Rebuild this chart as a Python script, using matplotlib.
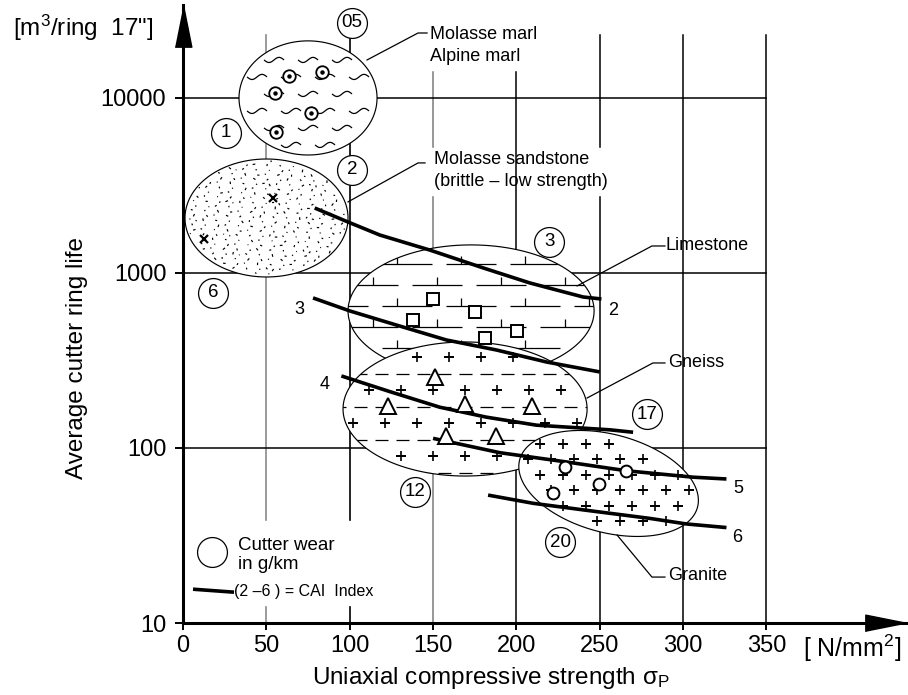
import numpy as np
import matplotlib
matplotlib.use("Agg")
import matplotlib.pyplot as plt
from matplotlib.patches import Polygon
from matplotlib.collections import LineCollection
from matplotlib.ticker import NullLocator

plt.rcParams['font.family'] = ['Liberation Sans', 'DejaVu Sans']
plt.rcParams['mathtext.fontset'] = 'custom'
plt.rcParams['mathtext.rm'] = 'Liberation Sans'
plt.rcParams['mathtext.it'] = 'Liberation Sans:italic'

# ---------------- data ----------------
x_ticks = [0, 50, 100, 150, 200, 250, 300, 350]
x_tick_labels = ["0", "50", "100", "150", "200", "250", "300", "350"]
y_ticks = [10, 100, 1000, 10000]
y_tick_labels = ["10", "100", "1000", "10000"]

# CAI index curves: uniaxial strength (N/mm2) -> ring life (m3/ring)
cai_2_x = [79, 99, 118, 148, 180, 208, 240, 251]
cai_2_y = [2350, 1955, 1648, 1352, 1069, 877, 729, 710]
cai_3_x = [78, 100, 128, 158, 188, 218, 250]
cai_3_y = [720, 607, 504, 414, 363, 310, 272]
cai_4_x = [95, 124, 154, 182, 212, 256, 270]
cai_4_y = [258, 210, 171, 150, 135, 127, 123]
cai_5_x = [150, 190, 230, 266, 306, 326]
cai_5_y = [113.5, 94, 83.2, 74.1, 68.1, 66.5]
cai_6_x = [183, 210, 240, 280, 302, 326]
cai_6_y = [53.8, 48.3, 44.3, 39.6, 36.8, 35.1]
cai_labels = ["2", "3", "4", "5", "6"]

# field observations per rock group
marl_x = [63.6, 83.4, 55.2, 76.8, 55.8]
marl_y = [13370, 14090, 10690, 8200, 6400]
sandstone_x = [54.0, 12.6]
sandstone_y = [2683, 1563]
limestone_x = [150.2, 175.2, 138.2, 200.5, 181.2]
limestone_y = [708, 596, 541, 464, 424]
gneiss_x = [151.2, 123.2, 169.2, 209.2, 157.6, 187.6]
gneiss_y = [255, 174, 178, 174, 117, 117]
granite_x = [229.2, 265.7, 249.7, 222.1]
granite_y = [78.2, 73.9, 62.1, 55.1]

# cutter wear in g/km
wear_labels = ["05", "1", "2", "6", "3", "17", "12", "20"]

# ---------------- figure / axes ----------------
W, H = 908, 695
L, R, T, B = 183, 907, 5, 623
fig = plt.figure(figsize=(W / 100, H / 100), dpi=100)
ax = fig.add_axes([L / W, (H - B) / H, (R - L) / W, (B - T) / H])
XMAX = 434.3
YMIN, YMAX = 10, 10 ** 4.531
ax.set_yscale('log')
ax.set_xlim(0, XMAX)
ax.set_ylim(YMIN, YMAX)
SX = (R - L) / XMAX                      # px per N/mm2
SY = (B - T) / np.log10(YMAX / YMIN)     # px per decade


def to_data(u, v):
    return np.asarray(u) / SX, 10 ** (np.asarray(v) / SY)


def to_uv(x, y):
    return np.asarray(x) * SX, np.log10(y) * SY


class Zone:
    def __init__(self, cx, cy, a, b, ang=0.0):
        self.cu, self.cv = to_uv(cx, cy)
        self.ap, self.bp = a * SX, b * SY
        self.th = np.radians(ang)

    def outline(self, n=240):
        t = np.linspace(0, 2 * np.pi, n)
        c, s = np.cos(self.th), np.sin(self.th)
        u = self.cu + self.ap * np.cos(t) * c - self.bp * np.sin(t) * s
        v = self.cv + self.ap * np.cos(t) * s + self.bp * np.sin(t) * c
        return u, v

    def inside(self, u, v, margin=0.0):
        du, dv = np.asarray(u) - self.cu, np.asarray(v) - self.cv
        c, s = np.cos(self.th), np.sin(self.th)
        p = du * c + dv * s
        q = -du * s + dv * c
        return (p / (self.ap - margin)) ** 2 + (q / (self.bp - margin)) ** 2 <= 1

    def patch(self, z):
        u, v = self.outline()
        x, y = to_data(u, v)
        pg = Polygon(np.column_stack([x, y]), closed=True, facecolor='white',
                     edgecolor='black', lw=0.85, zorder=z)
        ax.add_patch(pg)
        return pg

    def rows(self, step, offset=0.0):
        k0 = int(np.floor((-self.bp - offset) / step)) - 1
        k1 = int(np.ceil((self.bp - offset) / step)) + 1
        return [(k, self.cv + offset + k * step) for k in range(k0, k1 + 1)]

    def cols(self, step, shift=0.0):
        n = int(self.ap / step) + 2
        return [self.cu + shift + i * step for i in range(-n, n + 1)]


zone_marl = Zone(75, 10000, 41.4, 0.326)
zone_sand = Zone(50.1, 2061, 48.9, 0.337)
zone_lime = Zone(172.8, 607, 73.8, 0.377)
zone_gneiss = Zone(169.2, 167, 73.2, 0.383)
zone_granite = Zone(255.3, 62.7, 55.2, 0.28, -15)


def add_segments(segs_uv, clip, z, lw=0.9, **kw):
    segs = []
    for seg in segs_uv:
        su, sv = zip(*seg)
        x, y = to_data(su, sv)
        segs.append(np.column_stack([x, y]))
    lc = LineCollection(segs, colors='black', linewidths=lw, zorder=z, **kw)
    ax.add_collection(lc)
    lc.set_clip_path(clip)


def add_plus(zone, pts, z, clip, size=6.5):
    us = [p[0] for p in pts if zone.inside(p[0], p[1], 5)]
    vs = [p[1] for p in pts if zone.inside(p[0], p[1], 5)]
    x, y = to_data(us, vs)
    ln, = ax.plot(x, y, ls='none', marker='+', ms=size, mew=1.2, color='black', zorder=z)
    ln.set_clip_path(clip)


# ---------------- grid ----------------
grid_kw = dict(color='black', lw=1.1, zorder=1)
for xv, col in [(50, '#8a8a8a'), (100, 'black')]:
    ax.plot([xv, xv], [23000, 38.8], color=col, lw=1.2, zorder=1)
    ax.plot([xv, xv], [10, 12.3], color=col, lw=1.2, zorder=1)
ax.plot([150, 150], [14000, 5250], color='#7a7a7a', lw=1.1, zorder=1)
ax.plot([150, 150], [2717, 10], color='#7a7a7a', lw=1.1, zorder=1)
ax.plot([200, 200], [14000, 10], **grid_kw)
ax.plot([250, 250], [23000, 5250], **grid_kw)
ax.plot([250, 250], [2717, 10], **grid_kw)
for xv in (300, 350):
    ax.plot([xv, xv], [23000, 10], **grid_kw)
for yv in (100, 1000, 10000):
    ax.plot([0, 350], [yv, yv], **grid_kw)

# ---------------- rock zones ----------------
# marl: wavy strokes
p_marl = zone_marl.patch(2)
waves = []
for k, v in zone_marl.rows(17, 4):
    for u in zone_marl.cols(34, 17 * (k % 2)):
        if zone_marl.inside(u, v, 6):
            t = np.linspace(-1, 1, 14)
            waves.append(list(zip(u + 10 * t, v + 2.6 * np.sin(np.pi * t))))
add_segments(waves, p_marl, 2.1, lw=0.9)

# sandstone: stipple spread with a low-discrepancy (R2) sequence
p_sand = zone_sand.patch(2)
stip = []
g1, g2, g3 = 0.7548776662, 0.5698402910, 0.4142135624
n_marks = int(4 * zone_sand.ap * zone_sand.bp / 52)
for n in range(1, n_marks + 1):
    uu = zone_sand.cu + (((0.5 + n * g1) % 1) * 2 - 1) * zone_sand.ap
    vv = zone_sand.cv + (((0.5 + n * g2) % 1) * 2 - 1) * zone_sand.bp
    if not zone_sand.inside(uu, vv, 2):
        continue
    a = ((n * g3) % 1) * np.pi
    ln = 0.8 + ((n * 0.2360679775) % 1) * 2.0
    stip.append([(uu - ln * np.cos(a) / 2, vv - ln * np.sin(a) / 2),
                 (uu + ln * np.cos(a) / 2, vv + ln * np.sin(a) / 2)])
add_segments(stip, p_sand, 2.1, lw=0.85)

# limestone: brick pattern
p_lime = zone_lime.patch(2)
bricks = []
for k, v in zone_lime.rows(21, 5):
    for u in zone_lime.cols(64, 30 * (k % 2)):
        bricks.append([(u - 25, v), (u + 25, v)])
        tu = u + (0 if k % 2 else -10)
        bricks.append([(tu, v), (tu, v + 8)])
add_segments(bricks, p_lime, 2.1, lw=0.9)

# gneiss: dashed layering with crosses
p_gneiss = zone_gneiss.patch(3)
dashes = []
for k, v in zone_gneiss.rows(33, 2):
    for u in zone_gneiss.cols(21):
        dashes.append([(u - 6.5, v), (u + 6.5, v)])
add_segments(dashes, p_gneiss, 3.1, lw=0.9)
gpts = []
for k, v in zone_gneiss.rows(33, 18.5):
    for u in zone_gneiss.cols(32, 16 * (k % 2)):
        gpts.append((u, v))
add_plus(zone_gneiss, gpts, 3.2, p_gneiss)

# granite: crosses
p_granite = zone_granite.patch(4)
rpts = []
for k, v in zone_granite.rows(15.5, 8.5):
    for u in zone_granite.cols(23, 11.5 * (k % 2)):
        rpts.append((u, v))
add_plus(zone_granite, rpts, 4.2, p_granite)

# ---------------- CAI curves ----------------
cai_curves = [(cai_2_x, cai_2_y), (cai_3_x, cai_3_y), (cai_4_x, cai_4_y),
              (cai_5_x, cai_5_y), (cai_6_x, cai_6_y)]
for cx, cy in cai_curves:
    ax.plot(cx, cy, color='black', lw=2.6, solid_capstyle='butt',
            solid_joinstyle='round', zorder=6)
cai_label_pos = [(258, 607), (69.6, 622), (85.2, 229), (333, 59), (332.3, 30.6)]
for lab, (lx, ly) in zip(cai_labels, cai_label_pos):
    ax.text(lx, ly, lab, fontsize=13, ha='center', va='center', zorder=9)

# ---------------- observations ----------------
ax.plot(marl_x, marl_y, ls='none', marker='o', ms=9, mfc='white', mec='black', mew=1.3, zorder=7)
ax.plot(marl_x, marl_y, ls='none', marker='o', ms=2.2, color='black', zorder=7.1)
ax.plot(sandstone_x, sandstone_y, ls='none', marker='x', ms=6, mew=1.6, color='black', zorder=7)
ax.plot(limestone_x, limestone_y, ls='none', marker='s', ms=9, mfc='white', mec='black', mew=1.4, zorder=7)
ax.plot(gneiss_x, gneiss_y, ls='none', marker='^', ms=11, mfc='white', mec='black', mew=1.4, zorder=7)
ax.plot(granite_x, granite_y, ls='none', marker='o', ms=8.5, mfc='white', mec='black', mew=1.4, zorder=7)

# ---------------- cutter wear labels ----------------
wear_pos = [(101.4, 26840), (25.8, 6310), (101.4, 3880), (18, 769),
            (219.6, 1503), (278.3, 156), (139.2, 56.1), (226.2, 29)]
for lab, (wx, wy) in zip(wear_labels, wear_pos):
    ax.plot([wx], [wy], marker='o', ms=21.5, mfc='white', mec='black', mew=0.9,
            zorder=8, clip_on=False)
    ax.text(wx, wy, lab, fontsize=13.5, ha='center', va='center', zorder=9)

# ---------------- rock names with leaders ----------------
leaders = [
    ([110.4, 141, 146.4], [16480, 23500, 23500]),
    ([99, 141, 145.2], [2547, 4253, 4253]),
    ([236.4, 281.3, 289.1], [843, 1426, 1426]),
    ([242.4, 281.9, 289.1], [193, 306, 306]),
    ([260.4, 281.3, 289.1], [31.8, 18.3, 18.3]),
]
for lx, ly in leaders:
    ax.plot(lx, ly, color='black', lw=0.9, zorder=5)
name_kw = dict(fontsize=13, ha='left', va='center', zorder=9)
ax.text(148.2, 22900, "Molasse marl", **name_kw)
ax.text(148.2, 17150, "Alpine marl", **name_kw)
ax.text(150.6, 4426, "Molasse sandstone", **name_kw)
ax.text(150.6, 3313, "(brittle \u2013 low strength)", **name_kw)
ax.text(289.7, 1426, "Limestone", **name_kw)
ax.text(291.0, 306, "Gneiss", **name_kw)
ax.text(291.0, 18.6, "Granite", **name_kw)

# ---------------- key ----------------
ax.plot([17.4], [25.5], marker='o', ms=21.5, mfc='none', mec='black', mew=0.9, zorder=8)
ax.text(33, 27.6, "Cutter wear", fontsize=13.5, ha='left', va='center', zorder=9)
ax.text(33, 21.6, "in g/km", fontsize=13.5, ha='left', va='center', zorder=9)
ax.plot([6, 30.6], [15.6, 15.0], color='black', lw=2.6, solid_capstyle='butt', zorder=8)
ax.text(30.6, 15.2, "(2 \u20136 ) = CAI  Index", fontsize=11.5, ha='left', va='center', zorder=9)

# ---------------- axes frame, ticks, arrows ----------------
for s in ('top', 'right'):
    ax.spines[s].set_visible(False)
for s in ('left', 'bottom'):
    ax.spines[s].set_linewidth(2.2)
ax.set_xticks(x_ticks)
ax.set_xticklabels(x_tick_labels)
ax.set_yticks(y_ticks)
ax.set_yticklabels(y_tick_labels)
ax.yaxis.set_minor_locator(NullLocator())
ax.tick_params(axis='x', direction='out', length=5, width=1.4, pad=3.5, labelsize=17)
ax.tick_params(axis='y', direction='out', length=6, width=1.4, pad=6, labelsize=17)

ax.plot([0], [YMAX], marker=[(-6, -30), (6, -30), (0, 0)], ms=60, color='black',
        clip_on=False, zorder=10)
ax.plot([XMAX], [YMIN], marker=[(-30, -6), (-30, 6), (0, 0)], ms=60, color='black',
        clip_on=False, zorder=10)

fig.text(77 / W, 1 - 358 / H, "Average cutter ring life", rotation=90,
         fontsize=17.5, ha='center', va='center')
fig.text(491 / W, 1 - 678 / H, "Uniaxial compressive strength $\\mathrm{\u03c3}_\\mathrm{P}$",
         fontsize=17.5, ha='center', va='center')
fig.text(13 / W, 1 - 28 / H, "[m$^3$/ring  17\"]", fontsize=17.5, ha='left', va='center')
fig.text(803 / W, 1 - 648 / H, "[ N/mm$^2$]", fontsize=18, ha='left', va='center')

fig.savefig("out.png", dpi=100)
